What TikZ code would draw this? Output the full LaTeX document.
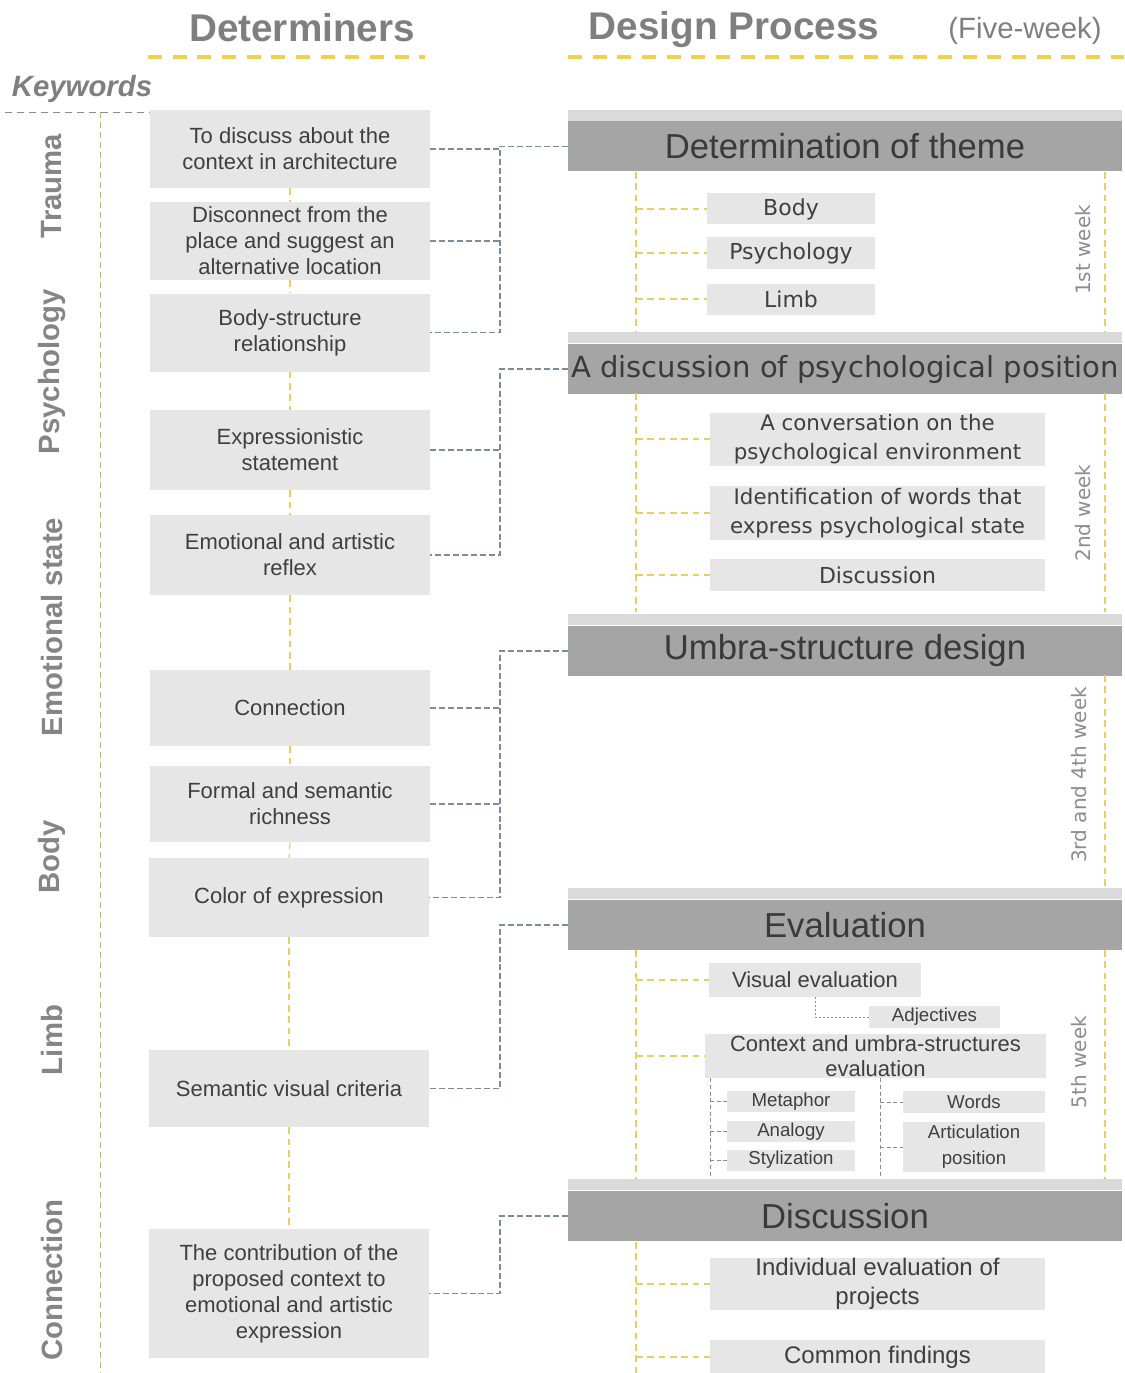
\documentclass[tikz,border=0pt]{standalone}
\usepackage{fontspec}
\setmainfont{Liberation Sans}
\newfontfamily\dejavu{DejaVu Sans}
\definecolor{boxgray}{HTML}{E6E6E6}
\definecolor{boxtext}{HTML}{3F3F3F}
\definecolor{bardark}{HTML}{A5A5A5}
\definecolor{barlight}{HTML}{DADADA}
\definecolor{headtext}{HTML}{3A3A3A}
\definecolor{titlegray}{HTML}{7F7F7F}
\definecolor{keygray}{HTML}{858585}
\definecolor{weekgray}{HTML}{8C8C8C}
\definecolor{linkblue}{HTML}{7A8C9C}
\definecolor{lineyellow}{HTML}{E8D060}
\definecolor{spinegray}{HTML}{BDB27A}
\definecolor{titleyellow}{HTML}{F0D24A}
\definecolor{subgray}{HTML}{8C8C8C}

\begin{document}
\begin{tikzpicture}[x=0.75pt,y=0.75pt,yscale=-1,xscale=1,
  detbox/.style={fill=boxgray,text=boxtext,minimum width=210pt,minimum height=58.5pt,inner sep=0pt,align=center,font=\fontsize{16.5}{19.5}\selectfont},
  stagebar/.style={fill=bardark,text=headtext,minimum width=415.5pt,minimum height=37.5pt,inner sep=0pt,font=\fontsize{26}{30}\selectfont},
  stagestrip/.style={fill=barlight,minimum width=415.5pt,minimum height=8.5pt,inner sep=0pt},
  itembox/.style={fill=boxgray,text=boxtext,inner sep=0pt,align=center},
  keyword/.style={text=keygray,rotate=90,font=\fontsize{22}{26}\selectfont\bfseries},
  weeklabel/.style={text=weekgray,rotate=90,font=\dejavu\fontsize{15}{18}\selectfont},
  linkline/.style={draw=linkblue,line width=0.9pt,dash pattern=on 4.5pt off 2.2pt},
  stageline/.style={draw=lineyellow,line width=0.9pt,dash pattern=on 5pt off 3.5pt},
  subline/.style={draw=subgray,line width=0.6pt,dash pattern=on 3pt off 2pt},
  titleline/.style={draw=titleyellow,line width=3pt,dash pattern=on 10.5pt off 8pt}]
\useasboundingbox (0,0) rectangle (1124,1373);

% Text Node
\node (ttlDet) [text=titlegray,font=\fontsize{29}{34}\selectfont\bfseries] at (302,28) {Determiners};
% Text Node
\node (ttlDes) [text=titlegray,font=\fontsize{29}{34}\selectfont\bfseries] at (734,30) {Design Process};
% Text Node
\node (ttlWeek) [text=titlegray,font=\fontsize{22}{26}\selectfont] at (1025,31) {(Five-week)};
% Text Node
\node (ttlKey) [text=titlegray,font=\fontsize{22}{26}\selectfont\bfseries\itshape] at (82,89) {Keywords};

%Straight Lines
\draw [titleline] (148,57) -- (425,57) ;
\draw [titleline] (568,57) -- (1124,57) ;
\draw [draw=subgray,line width=0.6pt,dash pattern=on 5pt off 4pt] (5,112) -- (150,112) ;
\draw [draw=spinegray,line width=0.75pt,dash pattern=on 4.5pt off 3pt] (100,112) -- (100,1373) ;

% Keywords
\node (kwTrauma) [keyword] at (52,186) {Trauma};
\node (kwPsych) [keyword] at (52,372) {Psychology};
\node (kwEmo) [keyword] at (52,627) {Emotional state};
\node (kwBody) [keyword] at (52,857) {Body};
\node (kwLimb) [keyword] at (52,1040) {Limb};
\node (kwConn) [keyword] at (52,1280) {Connection};

% Determiners
\node (d1) [detbox] at (290,149) {To discuss about the\\context in architecture};
\node (d2) [detbox] at (290,241) {Disconnect from the\\place and suggest an\\alternative location};
\node (d3) [detbox] at (290,332.5) {Body-structure\\relationship};
\node (d4) [detbox,minimum height=60pt] at (290,450) {Expressionistic\\statement};
\node (d5) [detbox,minimum height=60pt] at (290,555) {Emotional and artistic\\reflex};
\node (d6) [detbox,minimum height=57pt] at (290,708) {Connection};
\node (d7) [detbox,minimum height=57pt] at (290,804) {Formal and semantic\\richness};
\node (d8) [detbox,minimum height=59pt] at (289,897.5) {Color of expression};
\node (d9) [detbox,minimum height=58pt] at (289,1088.5) {Semantic visual criteria};
\node (d10) [detbox,minimum height=96.75pt] at (289,1293.5) {The contribution of the\\proposed context to\\emotional and artistic\\expression};

%Straight Lines
\draw [stageline] (d1.south) -- (d2.north) ;
\draw [stageline] (d2.south) -- (d3.north) ;
\draw [stageline] (d3.south) -- (d4.north) ;
\draw [stageline] (d4.south) -- (d5.north) ;
\draw [stageline] (d5.south) -- (d6.north) ;
\draw [stageline] (d6.south) -- (d7.north) ;
\draw [stageline] (d7.south) -- (d8.north) ;
\draw [stageline] (d8.south) -- (d9.north) ;
\draw [stageline] (d9.south) -- (d10.north) ;

% Stage bars
\node (h1) [stagebar] at (845,146.5) {Determination of theme};
\node (h1s) [stagestrip,anchor=south] at (h1.north) {};
\node (h2) [stagebar,font=\dejavu\fontsize{21.8}{26}\selectfont] at (845,369) {A discussion of psychological position};
\node (h2s) [stagestrip,anchor=south] at (h2.north) {};
\node (h3) [stagebar] at (845,651) {Umbra-structure design};
\node (h3s) [stagestrip,anchor=south] at (h3.north) {};
\node (h4) [stagebar] at (845,925) {Evaluation};
\node (h4s) [stagestrip,anchor=south] at (h4.north) {};
\node (h5) [stagebar] at (845,1216) {Discussion};
\node (h5s) [stagestrip,anchor=south] at (h5.north) {};

% Links determiners -> stages
\coordinate (t1) at (500,146.5);
\coordinate (t2) at (500,369);
\coordinate (t3) at (500,651);
\coordinate (t4) at (500,925);
\coordinate (t5) at (500,1216);
\draw [linkline] (h1.west) -- (t1) |- (d3.east) ;
\draw [linkline] (d1.east) -- (d1.east -| t1) ;
\draw [linkline] (d2.east) -- (d2.east -| t1) ;
\draw [linkline] (h2.west) -- (t2) |- (d5.east) ;
\draw [linkline] (d4.east) -- (d4.east -| t2) ;
\draw [linkline] (h3.west) -- (t3) |- (d8.east) ;
\draw [linkline] (d6.east) -- (d6.east -| t3) ;
\draw [linkline] (d7.east) -- (d7.east -| t3) ;
\draw [linkline] (h4.west) -- (t4) |- (d9.east) ;
\draw [linkline] (h5.west) -- (t5) |- (d10.east) ;

% 1st week
\node (b1) [itembox,minimum width=126pt,minimum height=23.25pt,font=\dejavu\fontsize{16.5}{20}\selectfont] at (791,209) {Body};
\node (b2) [itembox,minimum width=126pt,minimum height=23.25pt,font=\dejavu\fontsize{16.5}{20}\selectfont] at (791,253) {Psychology};
\node (b3) [itembox,minimum width=126pt,minimum height=23.25pt,font=\dejavu\fontsize{16.5}{20}\selectfont] at (791,299) {Limb};
\coordinate (sp1) at (636,172);
\draw [stageline] (sp1) -- (636,332) ;
\draw [stageline] (1105,172) -- (1105,332) ;
\draw [stageline] (b1.west -| sp1) -- (b1.west) ;
\draw [stageline] (b2.west -| sp1) -- (b2.west) ;
\draw [stageline] (b3.west -| sp1) -- (b3.west) ;
\node (w1) [weeklabel] at (1083,250) {1st week};

% 2nd week
\node (c1) [itembox,minimum width=251.25pt,minimum height=39.75pt,font=\dejavu\fontsize{16}{21.5}\selectfont] at (877.5,439) {A conversation on the\\psychological environment};
\node (c2) [itembox,minimum width=251.25pt,minimum height=40.5pt,font=\dejavu\fontsize{16}{21.5}\selectfont] at (877.5,513) {Identification of words that\\express psychological state};
\node (c3) [itembox,minimum width=251.25pt,minimum height=24pt,font=\dejavu\fontsize{16.5}{20}\selectfont] at (877.5,575) {Discussion};
\coordinate (sp2) at (636,393);
\draw [stageline] (sp2) -- (636,612) ;
\draw [stageline] (1105,393) -- (1105,612) ;
\draw [stageline] (c1.west -| sp2) -- (c1.west) ;
\draw [stageline] (c2.west -| sp2) -- (c2.west) ;
\draw [stageline] (c3.west -| sp2) -- (c3.west) ;
\node (w2) [weeklabel] at (1083,513) {2nd week};

% 3rd and 4th week
\draw [stageline] (1105,675) -- (1105,888) ;
\node (w3) [weeklabel] at (1079,775) {3rd and 4th week};

% 5th week
\node (vis) [itembox,minimum width=159pt,minimum height=25.5pt,font=\fontsize{16.5}{20}\selectfont] at (815,980) {Visual evaluation};
\node (adj) [itembox,minimum width=98.25pt,minimum height=16.5pt,font=\fontsize{14}{17}\selectfont] at (934.5,1017) {Adjectives};
\node (ctx) [itembox,minimum width=255.75pt,minimum height=33pt,font=\fontsize{16.5}{18.75}\selectfont] at (875.5,1056) {Context and umbra-structures\\evaluation};
\node (met) [itembox,minimum width=96pt,minimum height=15.75pt,font=\fontsize{14}{17}\selectfont] at (791,1101.5) {Metaphor};
\node (ana) [itembox,minimum width=96pt,minimum height=15.75pt,font=\fontsize{14}{17}\selectfont] at (791,1131.5) {Analogy};
\node (sty) [itembox,minimum width=96pt,minimum height=15.75pt,font=\fontsize{14}{17}\selectfont] at (791,1160) {Stylization};
\node (wrd) [itembox,minimum width=106.5pt,minimum height=16.5pt,font=\fontsize{14}{17}\selectfont] at (974,1102) {Words};
\node (art) [itembox,minimum width=106.5pt,minimum height=37.5pt,font=\fontsize{14}{19.5}\selectfont] at (974,1147) {Articulation\\position};
\coordinate (sp4) at (636,950);
\draw [stageline] (sp4) -- (636,1180) ;
\draw [stageline] (1105,950) -- (1105,1180) ;
\draw [stageline] (vis.west -| sp4) -- (vis.west) ;
\draw [stageline] (ctx.west -| sp4) -- (ctx.west) ;
\draw [draw=subgray,line width=0.6pt,dash pattern=on 1.5pt off 1.5pt] (vis.south) |- (adj.west) ;
\coordinate (lb) at (710,1178);
\coordinate (rb) at (880,1178);
\draw [subline] (ctx.south -| lb) -- (lb) ;
\draw [subline] (ctx.south -| rb) -- (rb) ;
\draw [subline] (met.west -| lb) -- (met.west) ;
\draw [subline] (ana.west -| lb) -- (ana.west) ;
\draw [subline] (sty.west -| lb) -- (sty.west) ;
\draw [subline] (wrd.west -| rb) -- (wrd.west) ;
\draw [subline] (art.west -| rb) -- (art.west) ;
\node (w4) [weeklabel] at (1079,1062) {5th week};

% Discussion
\node (ind) [itembox,minimum width=251.25pt,minimum height=39pt,font=\fontsize{18}{21.75}\selectfont] at (877.5,1284) {Individual evaluation of\\projects};
\node (com) [itembox,minimum width=251.25pt,minimum height=25.5pt,font=\fontsize{18}{21.75}\selectfont] at (877.5,1357) {Common findings};
\coordinate (sp5) at (636,1242);
\draw [stageline] (sp5) -- (636,1373) ;
\draw [stageline] (ind.west -| sp5) -- (ind.west) ;
\draw [stageline] (com.west -| sp5) -- (com.west) ;

\end{tikzpicture}
\end{document}
